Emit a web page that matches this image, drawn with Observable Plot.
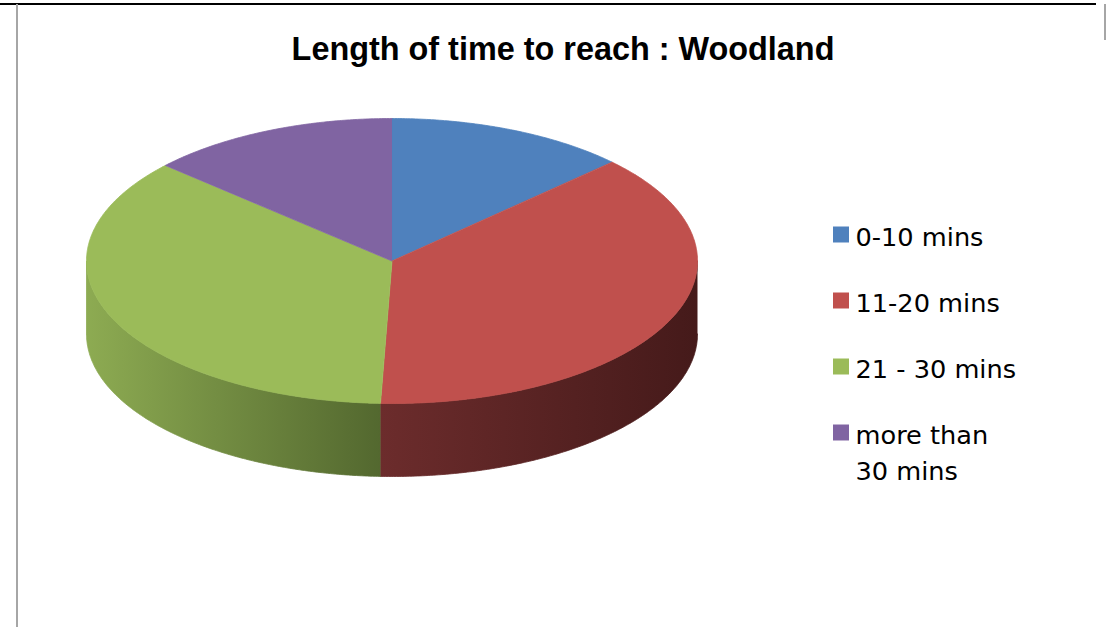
<!DOCTYPE html>
<html><head><meta charset="utf-8">
<script src="https://cdn.jsdelivr.net/npm/d3@7"></script>
<script src="https://cdn.jsdelivr.net/npm/@observablehq/plot@0.6"></script>
<style>
body{margin:0;background:#fff;}
#wrap{position:relative;width:1113px;height:627px;overflow:hidden;}
#wrap svg{position:absolute;left:0;top:0;display:block;}
.b{position:absolute;}
</style>
</head><body><div id="wrap"></div>
<script>
// ---- data ----
const title = "Length of time to reach : Woodland";
const categories = ["0-10 mins", "11-20 mins", "21 - 30 mins", "more than 30 mins"];
const legendLines = [["0-10 mins"], ["11-20 mins"], ["21 - 30 mins"], ["more than", "30 mins"]];
const shares = [12.8, 37.8, 36.1, 13.3];
const topColors = ["#4f81bd", "#c0504d", "#9bbb59", "#8064a2"];
const wallColors = [["#3a5f8c", "#2c4a6e"], ["#6c2c2c", "#451a1a"], ["#8dab52", "#53682f"], ["#5e4a78", "#4a3a5f"]];

// ---- layout ----
const W = 1113, H = 627;
const cx = 391.5, cy = 260.5, rx = 305.5, ry = 142.5, depth = 73;
const titleFont = "Liberation Sans", legendFont = "DejaVu Sans";

function fitSize(text, weight, family, target) {
  const c = document.createElement("canvas").getContext("2d");
  c.font = `${weight} 100px "${family}"`;
  return 100 * target / c.measureText(text).width;
}
const titleFs = fitSize(title, "bold", titleFont, 543);
const legFs = fitSize("0-10 mins", "normal", legendFont, 128);

// ---- geometry from data ----
const arcs = d3.pie().sort(null).value(d => d)(shares);
const pt = (a, dz) => ({x: cx + rx * Math.sin(a), y: cy - ry * Math.cos(a) + dz});
const arcPts = (a0, a1, dz) => {
  const n = Math.max(2, Math.ceil((a1 - a0) / (Math.PI / 360)));
  return d3.range(n + 1).map(k => pt(a0 + (a1 - a0) * k / n, dz));
};
const topFaces = arcs.map((s, i) =>
  [{x: cx, y: cy}, ...arcPts(s.startAngle, s.endAngle, 0)].map(p => ({...p, cat: categories[i]})));
const walls = [];
arcs.forEach((s, i) => {
  const a0 = Math.max(s.startAngle, Math.PI / 2), a1 = Math.min(s.endAngle, 3 * Math.PI / 2);
  if (a1 <= a0) return;
  const pts = [...arcPts(a0, a1, 0), ...arcPts(a0, a1, depth).reverse()].map(p => ({...p, cat: categories[i]}));
  const xs = pts.map(p => p.x);
  walls.push({i, pts, x0: d3.min(xs), x1: d3.max(xs)});
});

// legend rows
const legendSwatches = categories.map((c, i) => ({cat: c, row: i}));
const legendText = legendLines.flatMap((lines, i) => lines.map((t, j) => ({t, row: i, line: j})));

const color = {domain: categories, range: topColors};

const marks = [];
walls.forEach(w => marks.push(Plot.line(w.pts, {x: "x", y: "y", fill: `url(#wall${w.i})`, stroke: `url(#wall${w.i})`, strokeWidth: 0.8, curve: "linear"})));
topFaces.forEach(f => marks.push(Plot.line(f, {x: "x", y: "y", fill: "cat", stroke: "cat", strokeWidth: 0.8, curve: "linear"})));
marks.push(Plot.text([title], {x: W / 2 + 6, y: 59 - 0.32 * titleFs, text: d => d, fontSize: titleFs, fontWeight: "bold", fill: "#000", fontFamily: titleFont}));
marks.push(Plot.dot(legendSwatches, {x: 840.5, y: d => 234 + d.row * 66, symbol: "square", r: 16 / Math.sqrt(Math.PI), fill: "cat", stroke: null}));
marks.push(Plot.text(legendText, {x: 855, y: d => 245 + d.row * 66 + d.line * 36 - 0.32 * legFs, text: "t", textAnchor: "start", fontSize: legFs, fill: "#000", fontFamily: legendFont}));

const svg = Plot.plot({
  width: W, height: H,
  margin: 0,
  x: {domain: [0, W], range: [0, W], axis: null},
  y: {domain: [0, H], range: [0, H], axis: null},
  color,
  style: {background: "transparent", overflow: "visible"},
  marks
});

// gradient defs for the 3D side walls
const defs = d3.select(svg).insert("defs", ":first-child");
walls.forEach(w => {
  const g = defs.append("linearGradient").attr("id", `wall${w.i}`)
    .attr("gradientUnits", "userSpaceOnUse")
    .attr("x1", w.x0).attr("x2", w.x1).attr("y1", 0).attr("y2", 0);
  g.append("stop").attr("offset", 0).attr("stop-color", wallColors[w.i][0]);
  g.append("stop").attr("offset", 1).attr("stop-color", wallColors[w.i][1]);
});

const wrap = document.getElementById("wrap");
wrap.appendChild(svg);
// page/chart borders (decoration)
const borders = [
  {left: 0, top: 3, width: 1096, height: 2, bg: "#000"},
  {left: 16, top: 4, width: 2, height: 623, bg: "#a6a6a6"},
  {left: 1104, top: 4, width: 2, height: 36, bg: "#a6a6a6"}
];
borders.forEach(b => {
  const d = document.createElement("div");
  d.className = "b";
  Object.assign(d.style, {left: b.left + "px", top: b.top + "px", width: b.width + "px", height: b.height + "px", background: b.bg});
  wrap.appendChild(d);
});
</script>
</body></html>
